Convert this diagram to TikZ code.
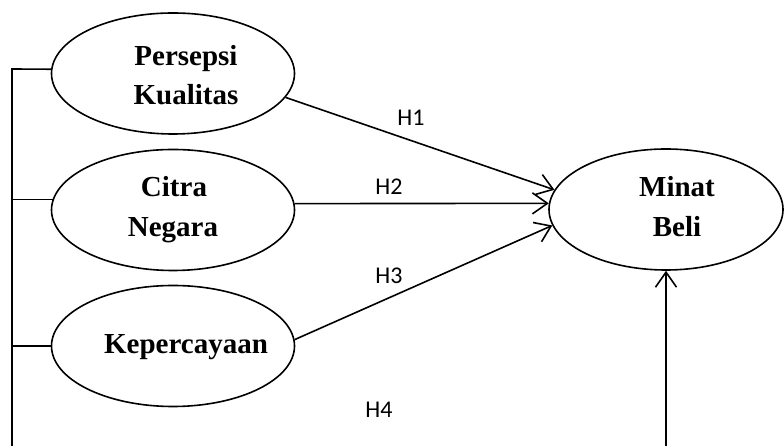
\documentclass[tikz,border=0pt]{standalone}
\usepackage{fontspec}
\setmainfont{Liberation Serif}
\newfontfamily\hfont{Carlito}
\usetikzlibrary{shapes.geometric,arrows.meta}
\begin{document}
\begin{tikzpicture}[x=1pt,y=1pt,
  every path/.style={line width=1.6pt},
  oval/.style={draw,ellipse,line width=1.6pt,inner sep=0pt,minimum width=243pt,minimum height=121pt},
  bigoval/.style={draw,ellipse,line width=1.6pt,inner sep=0pt,minimum width=234pt,minimum height=121pt},
  vtext/.style={anchor=base,inner sep=0pt,font=\fontsize{29}{35}\selectfont\bfseries},
  htext/.style={anchor=base,inner sep=0pt,font=\hfont\fontsize{24}{28}\selectfont},
  arr/.style={-{Straight Barb[length=15pt,width=21pt,line width=1.6pt]},line width=1.6pt}]
\useasboundingbox (0,0) rectangle (784,446);
\node[oval] (E1) at (173,372.5) {};
\node[oval] (E2) at (173,236) {};
\node[oval] (E3) at (173,100) {};
\node[bigoval] (M) at (666,236.5) {};
\node[vtext] (t1a) at (186,380) {Persepsi};
\node[vtext] (t1b) at (186,341) {Kualitas};
\node[vtext] (t2a) at (174,249) {Citra};
\node[vtext] (t2b) at (173,209) {Negara};
\node[vtext] (t3) at (186,92) {Kepercayaan};
\node[vtext] (tma) at (677,249) {Minat};
\node[vtext] (tmb) at (677,209) {Beli};
\node[htext] (h1) at (411,320.3) {H1};
\node[htext] (h2) at (389,251) {H2};
\node[htext] (h3) at (389,162) {H3};
\node[htext] (h4) at (379,28) {H4};
\coordinate (L1) at (12,377);
\coordinate (Lb) at (12,0);
\coordinate (Mb) at (666,0);
\draw (E1.178) -- (L1) -- (Lb);
\draw (E2.175) -- (L1 |- E2.175);
\draw (E3.west) -- (L1 |- E3.west);
\draw[arr] (E1.-12) -- (M.170);
\draw[arr] (E2.3) -- (M.177);
\draw[arr] (E3.3) -- (M.188);
\draw[arr] (Mb) -- (M.south);
\end{tikzpicture}
\end{document}
